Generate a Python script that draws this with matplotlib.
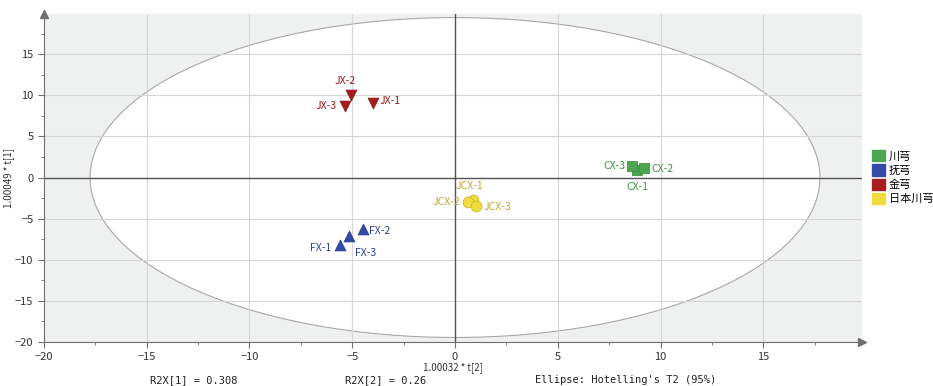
import matplotlib
matplotlib.use('Agg')
import matplotlib.pyplot as plt
from matplotlib.patches import Ellipse, Patch

plt.rcParams['font.family'] = ['Noto Sans CJK SC', 'DejaVu Sans']

# 样本得分
groups = ['川芎', '抚芎', '金芎', '日本川芎']
colors = ['#4ba64f', '#3549a6', '#a51d1f', '#f0dc3c']
edge_colors = ['#3f9443', '#2c3f96', '#8e1719', '#cdb62a']
text_colors = ['#3f8f43', '#2e3f93', '#8e1a1c', '#b8a92a']
markers = ['s', '^', 'v', 'o']

names = [['CX-1', 'CX-2', 'CX-3'],
         ['FX-1', 'FX-2', 'FX-3'],
         ['JX-1', 'JX-2', 'JX-3'],
         ['JCX-1', 'JCX-2', 'JCX-3']]
t2 = [[8.85, 9.2, 8.6],
      [-5.6, -4.5, -5.15],
      [-4.0, -5.05, -5.35],
      [0.85, 0.65, 1.0]]
t1 = [[0.9, 1.2, 1.35],
      [-8.2, -6.2, -7.1],
      [9.1, 10.0, 8.7],
      [-2.75, -3.0, -3.45]]
# 标签偏移 (points)
offsets = [[(0, -12, 'center'), (5, -1, 'left'), (-5, 0, 'right')],
           [(-6, -2, 'right'), (5, -2, 'left'), (4, -12, 'left')],
           [(5, 1, 'left'), (-4, 10, 'center'), (-6, 0, 'right')],
           [(-2, 10, 'center'), (-6, 0, 'right'), (6, -1, 'left')]]

ellipse_a, ellipse_b = 17.75, 19.45
r2x = ['R2X[1] = 0.308', 'R2X[2] = 0.26', "Ellipse: Hotelling's T2 (95%)"]

fig = plt.figure(figsize=(9.33, 3.86), dpi=100)
ax = fig.add_axes([0.047, 0.114, 0.877, 0.85])
ax.set_facecolor('#eff0f0')

ax.add_patch(Ellipse((0, 0), 2 * ellipse_a, 2 * ellipse_b, facecolor='white',
                     edgecolor='#a8a8a8', linewidth=0.8, zorder=0.1))

ax.set_xlim(-20, 19.8)
ax.set_ylim(-20, 19.9)
ax.set_xticks(range(-20, 16, 5))
ax.set_yticks(range(-20, 16, 5))
ax.set_xticks([x + 2.5 for x in range(-20, 16, 5)], minor=True)
ax.set_yticks([y + 2.5 for y in range(-20, 16, 5)], minor=True)
ax.set_axisbelow(True)
ax.grid(True, which='major', color='#d6d6d6', linewidth=0.8)
ax.axhline(0, color='#555555', linewidth=1.0, zorder=1.5)
ax.axvline(0, color='#555555', linewidth=1.0, zorder=1.5)

for s in ['top', 'right']:
    ax.spines[s].set_visible(False)
for s in ['left', 'bottom']:
    ax.spines[s].set_color('#707070')
ax.tick_params(which='both', colors='#707070', labelcolor='#333333', labelsize=8, direction='out')
ax.tick_params(which='major', length=4)
ax.tick_params(which='minor', length=2)
ax.plot([0], [1], marker='^', color='#707070', markersize=6, transform=ax.transAxes, clip_on=False)
ax.plot([1], [0], marker='>', color='#707070', markersize=6, transform=ax.transAxes, clip_on=False)

for g in range(len(groups)):
    ax.scatter(t2[g], t1[g], marker=markers[g], s=60, color=colors[g],
               edgecolors=edge_colors[g], linewidths=0.6, zorder=3)
    for n, x, y, (dx, dy, ha) in zip(names[g], t2[g], t1[g], offsets[g]):
        ax.annotate(n, (x, y), xytext=(dx, dy), textcoords='offset points',
                    ha=ha, va='center', fontsize=7.5, color=text_colors[g], zorder=4)

ax.set_xlabel('1.00032 * t[2]', fontsize=7, color='#333333', labelpad=0)
ax.set_ylabel('1.00049 * t[1]', fontsize=7, color='#333333', labelpad=1)

handles = [Patch(facecolor=c, edgecolor=c) for c in colors]
ax.legend(handles, groups, loc='upper left', bbox_to_anchor=(1.012, 0.585),
          frameon=False, fontsize=8, handlelength=1.2, handleheight=1.2,
          handletextpad=0.3, labelspacing=0.25, borderaxespad=0, borderpad=0)

for txt, xp in zip(r2x, [150, 345, 535]):
    fig.text(xp / 933, 1 - 380 / 386, txt, fontsize=7.5, family='DejaVu Sans Mono',
             color='#222222', va='center', ha='left')

fig.savefig('out.png', dpi=100)
